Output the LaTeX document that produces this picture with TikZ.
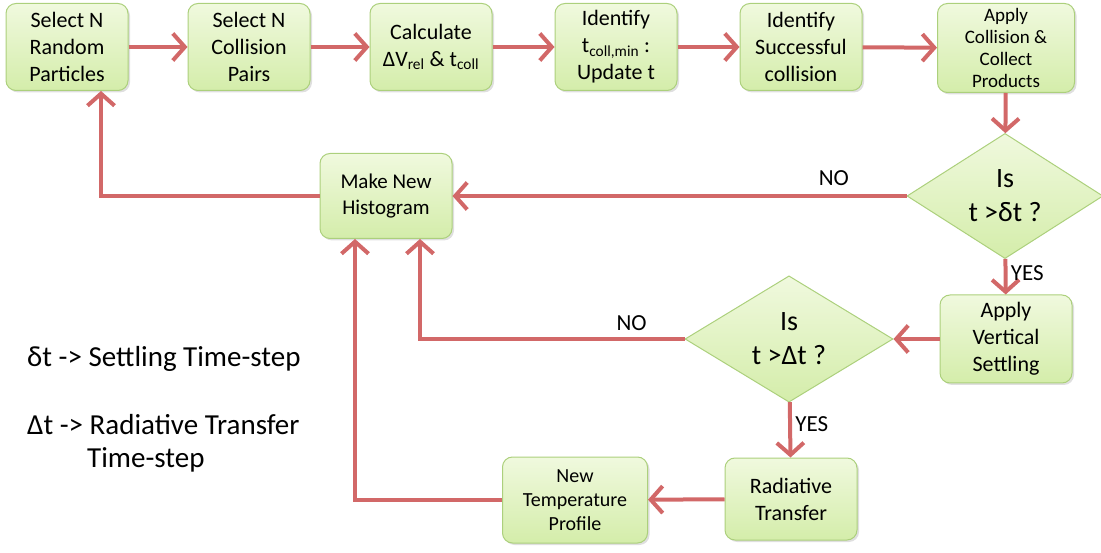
\documentclass[tikz,border=0pt]{standalone}
\usepackage{fontspec}
\setmainfont{Carlito}
\usepackage{tikz}
\usetikzlibrary{arrows.meta,%
		calc,%
		positioning,%
		shadows,%
		shapes.geometric}

\definecolor{boxtop}{RGB}{240,249,222}
\definecolor{boxbot}{RGB}{212,237,170}
\definecolor{boxline}{RGB}{172,208,124}
\definecolor{flowred}{RGB}{210,104,104}

\begin{document}
\begin{tikzpicture}[x=1pt,y=-1pt,
  box/.style={draw=boxline,line width=1pt,rounded corners=10pt,
    top color=boxtop,bottom color=boxbot,
    drop shadow={opacity=0.25,shadow xshift=2pt,shadow yshift=-2pt},
    minimum width=122pt,minimum height=87pt,inner sep=1pt,align=center,
    font=\fontsize{22}{27}\selectfont},
  decision/.style={diamond,draw=boxline,line width=1pt,
    top color=boxtop,bottom color=boxbot,
    minimum width=196pt,minimum height=113pt,inner sep=0pt,align=center,
    font=\fontsize{28}{34}\selectfont},
  flow/.style={draw=flowred,line width=4pt,-{Straight Barb[length=12pt,width=27pt]}},
  tag/.style={font=\fontsize{23}{26}\selectfont},
  legend/.style={anchor=west,inner sep=0pt,font=\fontsize{29}{34}\selectfont}]
  \useasboundingbox (0,0) rectangle (1101,553);

  % top row
  \node [box] (pick) at (67,47) {Select N\\Random\\Particles};
  \node [box] (pairs) at (249,47) {Select N\\Collision\\Pairs};
  \node [box] (calc) at (431,47) {Calculate\\ΔV\textsubscript{rel} \& t\textsubscript{coll}};
  \node [box] (tmin) at (616,47) {Identify\\t\textsubscript{coll,min} :\\Update t};
  \node [box] (succ) at (801,47) {Identify\\Successful\\collision};
  \node [box,minimum width=137pt,minimum height=89pt,
    font=\fontsize{19}{22}\selectfont] (apply) at (1006,48) {Apply\\Collision \&\\Collect\\Products};

  % loop
  \node [decision] (small) at (1005,196) {Is\\t >δt ?};
  \node [box,minimum width=132pt,minimum height=85pt,
    font=\fontsize{21}{26}\selectfont] (hist) at (386,196) {Make New\\Histogram};
  \node [box,minimum width=132pt,minimum height=88pt] (settle) at (1006,339) {Apply\\Vertical\\Settling};
  \node [decision,minimum width=208pt,minimum height=115pt] (big) at (789,339) {Is\\t >Δt ?};
  \node [box,minimum width=132pt,minimum height=82pt] (rad) at (791,499) {Radiative\\Transfer};
  \node [box,minimum width=145pt,minimum height=86pt,
    font=\fontsize{20}{24}\selectfont] (temp) at (575,500) {New\\Temperature\\Profile};

  \draw [flow] (pick) -- (pairs);
  \draw [flow] (pairs) -- (calc);
  \draw [flow] (calc) -- (tmin);
  \draw [flow] (tmin) -- (succ);
  \draw [flow] (succ) -- (apply);
  \draw [flow] (apply) -- (small);
  \draw [flow] (small) -- node [tag,above=5pt,pos=0.16] (no1) {NO} (hist);
  \draw [flow] (hist.west) -| ([xshift=34pt]pick.south);
  \draw [flow] (small) -- node [tag,right,pos=0.4] (yes1) {YES} (settle);
  \draw [flow] (settle) -- (big);
  \draw [flow] (big.west) -- node [tag,above=3pt,pos=0.2] (no2) {NO} (420,339) -- ([xshift=34pt]hist.south);
  \draw [flow] (big) -- node [tag,right,pos=0.4] (yes2) {YES} (rad);
  \draw [flow] (rad) -- (temp);
  \draw [flow] (temp.west) -| ([xshift=-31pt]hist.south);

  % legend
  \node [legend] (key1) at (27,359) {δt -> Settling Time-step};
  \node [legend] (key2) at (27,425) {Δt -> Radiative Transfer};
  \node [legend] (key3) at (87,460) {Time-step};
\end{tikzpicture}
\end{document}
